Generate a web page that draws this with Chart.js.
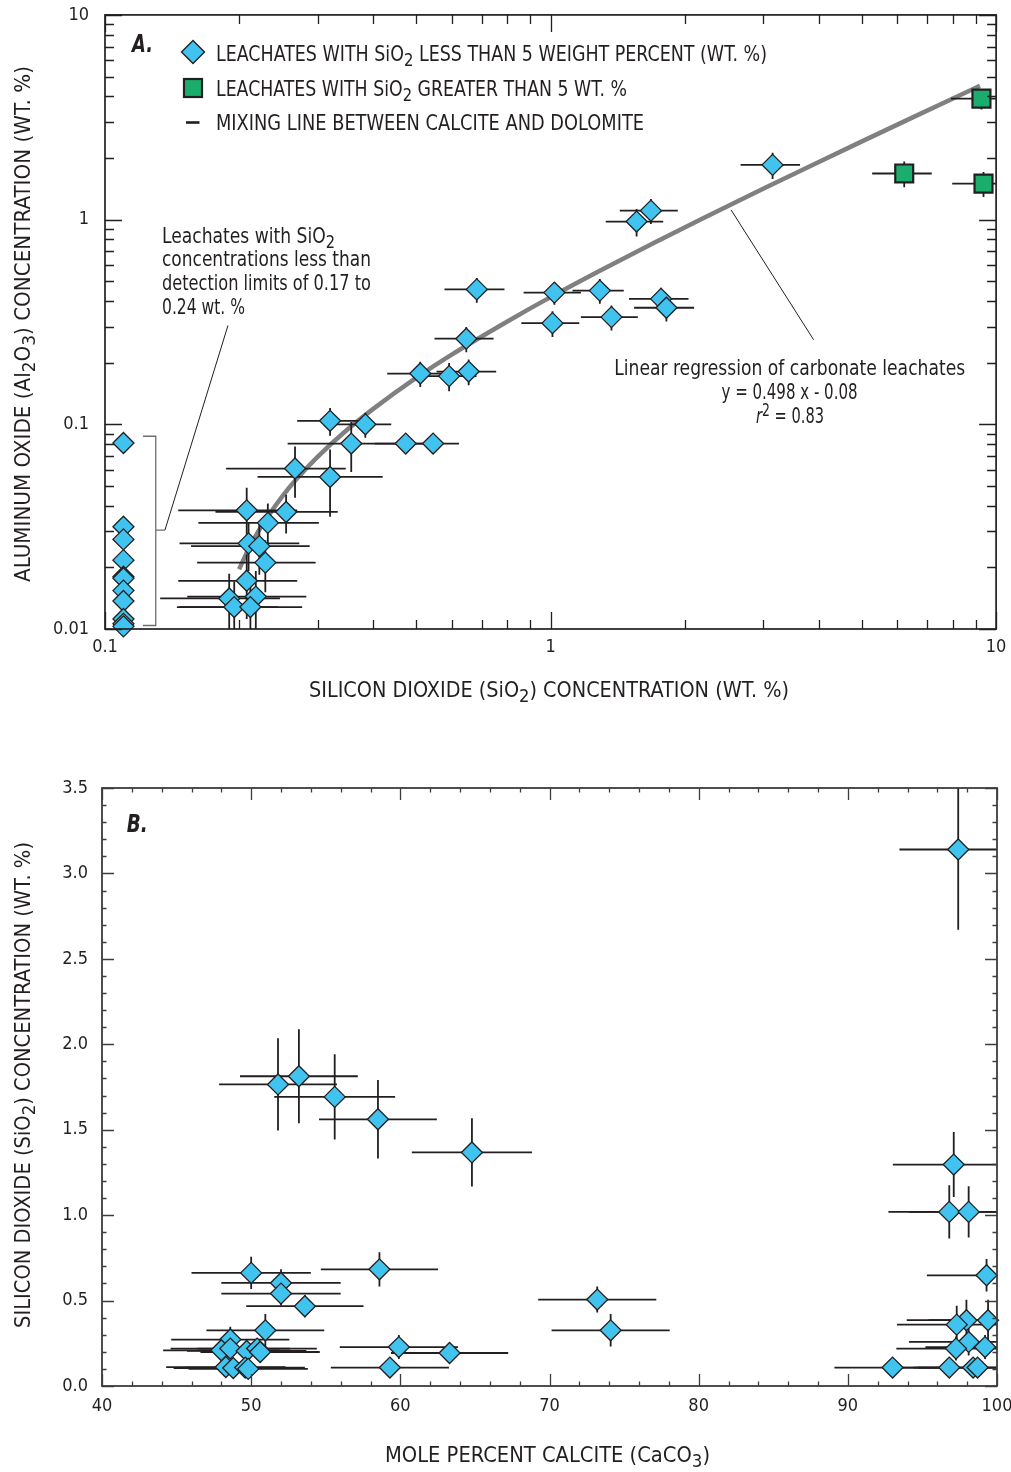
<!DOCTYPE html>
<html lang="en">
<head>
  <meta charset="UTF-8" />
  <title>Al2O3, SiO2 and calcite in carbonate leachates</title>
  <script src="https://cdn.jsdelivr.net/npm/chart.js"></script>
  <style>
    html, body { margin: 0; padding: 0; background: #fff; }
    .panel { position: absolute; left: 0; width: 1011px; }
    #panelA { top: 0; height: 720px; }
    #panelB { top: 740px; height: 732px; }
  </style>
</head>
<body>

<div class="panel" id="panelA"><canvas id="chartA" width="1011" height="720"></canvas></div>
<div class="panel" id="panelB"><canvas id="chartB" width="1011" height="732"></canvas></div>

<script>
// ---- Panel A: Al2O3 vs SiO2 (log-log) ----
// leachates with SiO2 < 5 wt. %
const aSiO2 = [3.15, 1.68, 1.56, 0.683, 1.02, 1.29, 1.77, 1.82, 1.01, 1.37, 0.647, 0.51, 0.592, 0.655, 0.32, 0.384,
  0.357, 0.473, 0.545, 0.267, 0.32, 0.208, 0.255, 0.232, 0.21, 0.222, 0.229, 0.208, 0.19, 0.218, 0.195, 0.212];
const aAl2O3 = [1.85, 1.106, 0.978, 0.456, 0.44, 0.45, 0.41, 0.371, 0.312, 0.334, 0.262, 0.177, 0.172, 0.181, 0.104, 0.1,
  0.0805, 0.0805, 0.0805, 0.0608, 0.0553, 0.038, 0.0373, 0.033, 0.0262, 0.0254, 0.0211, 0.0172, 0.0141, 0.0144, 0.0128, 0.0128];
const aSiO2Err = [0.48, 0.25, 0.23, 0.105, 0.15, 0.17, 0.27, 0.28, 0.15, 0.2, 0.098, 0.08, 0.09, 0.1, 0.05, 0.055,
  0.1, 0.07, 0.078, 0.08, 0.1, 0.062, 0.078, 0.07, 0.063, 0.066, 0.068, 0.062, 0.057, 0.065, 0.05, 0.065];
const aAl2O3Err = [0.27, 0.155, 0.15, 0.063, 0.056, 0.062, 0.054, 0.053, 0.045, 0.047, 0.037, 0.025, 0.027, 0.026, 0.016, 0.014,
  0.022, 0.008, 0.008, 0.017, 0.02, 0.011, 0.008, 0.008, 0.007, 0.007, 0.006, 0.006, 0.0045, 0.0048, 0.0042, 0.0045];

// leachates with SiO2 below detection limit (plotted at 0.11)
const ndSiO2 = [0.11, 0.11, 0.11, 0.11, 0.11, 0.11, 0.11, 0.11, 0.11, 0.11, 0.11];
const ndAl2O3 = [0.081, 0.0316, 0.0274, 0.0217, 0.018, 0.0177, 0.0154, 0.0137, 0.0112, 0.0106, 0.0103];

// leachates with SiO2 > 5 wt. %
const gSiO2 = [9.27, 6.22, 9.37];
const gAl2O3 = [3.9, 1.68, 1.5];
const gSiO2Err = [1.35, 0.95, 1.4];
const gAl2O3Err = [0.45, 0.24, 0.21];

// linear regression line
const regSiO2 = [0.2, 0.21, 0.22, 0.23, 0.25, 0.27, 0.3, 0.35, 0.4, 0.5, 0.6, 0.8, 1, 1.3, 1.7, 2.2, 3, 4, 5, 6.5, 8, 9.2];
const regAl2O3 = [0.0196, 0.0246, 0.0296, 0.0345, 0.0445, 0.0545, 0.0694, 0.0943, 0.119, 0.169, 0.219, 0.318, 0.418,
  0.567, 0.767, 1.016, 1.414, 1.912, 2.41, 3.157, 3.904, 4.502];

const aXTicks = [0.1, 1, 10];
const aXTickLabels = ['0.1', '1', '10'];
const aYTicks = [0.01, 0.1, 1, 10];
const aYTickLabels = ['0.01', '0.1', '1', '10'];

// ---- Panel B: SiO2 vs mole percent calcite ----
const bCalcite = [51.8, 53.2, 55.6, 58.5, 64.8, 50.0, 58.6, 52.0, 52.0, 53.6, 50.95, 59.9, 63.3, 59.3,
  48.6, 48.0, 48.6, 49.7, 50.4, 50.6, 48.3, 48.8, 49.6, 49.8,
  73.2, 74.1, 97.1, 96.8, 98.1, 99.3, 99.4, 97.95, 97.3, 98.1, 99.2, 97.25, 93.0, 96.8, 98.4, 98.7, 97.4];
const bSiO2 = [1.765, 1.813, 1.692, 1.561, 1.367, 0.662, 0.683, 0.603, 0.541, 0.467, 0.326, 0.228, 0.193, 0.108,
  0.272, 0.209, 0.219, 0.205, 0.219, 0.199, 0.111, 0.105, 0.108, 0.1,
  0.506, 0.326, 1.296, 1.019, 1.019, 0.648, 0.385, 0.385, 0.359, 0.258, 0.228, 0.219, 0.108, 0.108, 0.108, 0.108, 3.14];
const bCalciteErr = [3.95, 3.95, 4.05, 3.95, 4.03, 4.0, 3.93, 4.0, 4.0, 3.93, 3.95, 3.96, 3.93, 3.96,
  3.96, 3.9, 4.0, 4.0, 4.0, 4.0, 4.0, 4.0, 4.0, 4.0,
  3.96, 3.96, 4.08, 4.08, 4.0, 4.0, 4.0, 4.0, 4.0, 4.0, 4.0, 4.0, 3.9, 4.0, 4.0, 4.0, 3.94];
const bSiO2Err = [0.27, 0.275, 0.25, 0.23, 0.2, 0.095, 0.1, 0.08, 0.07, 0.065, 0.095, 0.07, 0.05, 0.05,
  0.075, 0.06, 0.06, 0.06, 0.06, 0.06, 0.05, 0.05, 0.05, 0.05,
  0.076, 0.095, 0.19, 0.156, 0.15, 0.095, 0.12, 0.12, 0.11, 0.08, 0.07, 0.07, 0.05, 0.05, 0.05, 0.05, 0.47];

const bXTicks = [40, 50, 60, 70, 80, 90, 100];
const bXTickLabels = ['40', '50', '60', '70', '80', '90', '100'];
const bYTicks = [0, 0.5, 1, 1.5, 2, 2.5, 3, 3.5];
const bYTickLabels = ['0.0', '0.5', '1.0', '1.5', '2.0', '2.5', '3.0', '3.5'];

const INK = '#231f20';
const CYAN = '#40c4ef';
const GREEN = '#1bad6b';
const FONT = '"Liberation Sans Narrow", "DejaVu Sans Condensed", "Roboto", sans-serif';

const pts = (xs, ys) => xs.map((x, i) => ({ x: x, y: ys[i] }));

function logMinor(decades) {
  const out = [];
  decades.forEach(d => { for (let k = 2; k <= 9; k++) out.push(d * k); });
  return out;
}
function steps(from, to, step) {
  const out = [];
  for (let v = from; v <= to + 1e-9; v += step) out.push(+v.toFixed(6));
  return out;
}

// text with sub/superscripts, squeezed to the width it has in the figure
function drawRich(ctx, parts, x, y, size, width, align, weight) {
  ctx.save();
  const fontFor = p => (p[1] === 'i' ? 'italic ' : '') + (weight || 'normal') + ' ' +
    ((p[1] === 'sub' || p[1] === 'sup') ? size * 0.85 : size) + 'px ' + FONT;
  let natural = 0;
  parts.forEach(p => { ctx.font = fontFor(p); natural += ctx.measureText(p[0]).width; });
  const sx = width ? width / natural : 1;
  const x0 = align === 'center' ? x - natural * sx / 2 : (align === 'right' ? x - natural * sx : x);
  ctx.translate(x0, y);
  ctx.scale(sx, 1);
  ctx.textAlign = 'left';
  ctx.textBaseline = 'alphabetic';
  ctx.fillStyle = INK;
  let cx = 0;
  parts.forEach(p => {
    ctx.font = fontFor(p);
    const dy = p[1] === 'sub' ? size * 0.24 : (p[1] === 'sup' ? -size * 0.36 : 0);
    ctx.fillText(p[0], cx, dy);
    cx += ctx.measureText(p[0]).width;
  });
  ctx.restore();
}
function drawRotated(ctx, parts, cx, cy, size, width) {
  ctx.save();
  ctx.translate(cx, cy);
  ctx.rotate(-Math.PI / 2);
  drawRich(ctx, parts, 0, 0, size, width, 'center');
  ctx.restore();
}

// error bars drawn just before the markers of a dataset
const errorBars = {
  id: 'errorBars',
  beforeDatasetDraw(chart, args) {
    const ds = chart.data.datasets[args.index];
    if (!ds.xErr) return;
    const { ctx, chartArea: a, scales: { x, y } } = chart;
    const px = v => x.getPixelForValue(Math.max(v, x.min));
    const py = v => y.getPixelForValue(Math.max(v, y.min));
    ctx.save();
    ctx.beginPath();
    ctx.rect(a.left, a.top, a.right - a.left, a.bottom - a.top);
    ctx.clip();
    ctx.strokeStyle = INK;
    ctx.lineWidth = 1.8;
    ds.data.forEach((p, i) => {
      const cx = px(p.x), cy = py(p.y);
      ctx.beginPath();
      ctx.moveTo(px(p.x - ds.xErr[i]), cy);
      ctx.lineTo(px(p.x + ds.xErr[i]), cy);
      ctx.moveTo(cx, py(p.y - ds.yErr[i]));
      ctx.lineTo(cx, py(p.y + ds.yErr[i]));
      ctx.stroke();
    });
    ctx.restore();
  }
};

// inward ticks on all four sides plus the box
function frameTicks(cfg) {
  return {
    id: 'frameTicks',
    afterDraw(chart) {
      const { ctx, chartArea: a, scales: { x, y } } = chart;
      ctx.save();
      ctx.strokeStyle = cfg.color;
      ctx.lineWidth = cfg.tickWidth;
      ctx.beginPath();
      const xMarks = (vals, len) => vals.forEach(v => {
        const p = Math.round(x.getPixelForValue(v)) + 0.5;
        ctx.moveTo(p, a.bottom); ctx.lineTo(p, a.bottom - len);
        ctx.moveTo(p, a.top); ctx.lineTo(p, a.top + len);
      });
      const yMarks = (vals, len) => vals.forEach(v => {
        const p = Math.round(y.getPixelForValue(v)) + 0.5;
        ctx.moveTo(a.left, p); ctx.lineTo(a.left + len, p);
        ctx.moveTo(a.right, p); ctx.lineTo(a.right - len, p);
      });
      xMarks(cfg.xMajor, cfg.major); xMarks(cfg.xMinor, cfg.minor);
      yMarks(cfg.yMajor, cfg.major); yMarks(cfg.yMinor, cfg.minor);
      ctx.stroke();
      ctx.lineWidth = cfg.frameWidth;
      ctx.strokeRect(a.left, a.top, a.right - a.left, a.bottom - a.top);
      ctx.restore();
    }
  };
}

const tickFont = { family: FONT, size: 18 };

// fixed axis boxes; the label overhang must not shrink the plot area
function axis(type, min, max, ticks, labels, size, padding) {
  return {
    type: type, min: min, max: max,
    grid: { display: false, drawTicks: false },
    border: { display: false },
    afterBuildTicks: s => { s.ticks = ticks.map(v => ({ value: v })); },
    afterFit: s => {
      if (s.isHorizontal()) s.height = size; else s.width = size;
      s.paddingLeft = s.paddingRight = s.paddingTop = s.paddingBottom = 0;
    },
    ticks: {
      callback: (v, i) => labels[i],
      font: tickFont, color: INK, padding: padding,
      maxRotation: 0, autoSkip: false
    }
  };
}

// ---------- Chart A ----------
const annotA = {
  id: 'annotA',
  afterDraw(chart) {
    const { ctx, scales: { x, y } } = chart;
    const P = (vx, vy) => [x.getPixelForValue(vx), y.getPixelForValue(vy)];

    // legend
    ctx.save();
    ctx.fillStyle = CYAN; ctx.strokeStyle = INK; ctx.lineWidth = 1.4;
    ctx.beginPath();
    ctx.moveTo(193 - 11.5, 52); ctx.lineTo(193, 52 - 11.5); ctx.lineTo(193 + 11.5, 52); ctx.lineTo(193, 52 + 11.5);
    ctx.closePath(); ctx.fill(); ctx.stroke();
    ctx.fillStyle = GREEN; ctx.lineWidth = 2.2;
    ctx.fillRect(184, 79, 18, 18); ctx.strokeRect(184, 79, 18, 18);
    ctx.lineWidth = 2.6; ctx.beginPath(); ctx.moveTo(186, 122.5); ctx.lineTo(199.5, 122.5); ctx.stroke();

    // bracket around the below-detection points and leader lines
    ctx.strokeStyle = '#6d6e71'; ctx.lineWidth = 1.3;
    const b1 = P(0.13, 0.0874), b2 = P(0.13, 0.0104), bl = P(0.1217, 0.0874), bm = P(0.1363, 0.0304);
    ctx.beginPath();
    ctx.moveTo(bl[0], b1[1]); ctx.lineTo(b1[0], b1[1]); ctx.lineTo(b2[0], b2[1]); ctx.lineTo(bl[0], b2[1]);
    ctx.moveTo(b1[0], bm[1]); ctx.lineTo(bm[0], bm[1]);
    ctx.stroke();
    ctx.strokeStyle = INK; ctx.lineWidth = 1;
    const l1 = P(0.1888, 0.304);
    ctx.beginPath(); ctx.moveTo(bm[0], bm[1]); ctx.lineTo(l1[0], l1[1]); ctx.stroke();
    const r1 = P(2.542, 1.115), r2 = P(3.894, 0.2589);
    ctx.beginPath(); ctx.moveTo(r1[0], r1[1]); ctx.lineTo(r2[0], r2[1]); ctx.stroke();
    ctx.restore();

    drawRich(ctx, [['A.', 'i']], 132, 51.7, 25, 21, 'left', 'bold');
    drawRich(ctx, [['LEACHATES WITH SiO', ''], ['2', 'sub'], [' LESS THAN 5 WEIGHT PERCENT (WT. %)', '']], 216, 61, 21, 551);
    drawRich(ctx, [['LEACHATES WITH SiO', ''], ['2', 'sub'], [' GREATER THAN 5 WT. %', '']], 216, 95.7, 21, 411);
    drawRich(ctx, [['MIXING LINE BETWEEN CALCITE AND DOLOMITE', '']], 216, 130, 21, 428);

    drawRich(ctx, [['Leachates with SiO', ''], ['2', 'sub']], 162, 242.7, 20.5, 173);
    drawRich(ctx, [['concentrations less than', '']], 162, 266.2, 20.5, 209);
    drawRich(ctx, [['detection limits of 0.17 to', '']], 162, 289.7, 20.5, 209);
    drawRich(ctx, [['0.24 wt. %', '']], 162, 314, 20.5, 83);

    drawRich(ctx, [['Linear regression of carbonate leachates', '']], 789.7, 375, 20.5, 351, 'center');
    drawRich(ctx, [['y = 0.498 x - 0.08', '']], 789.5, 399, 20.5, 136, 'center');
    drawRich(ctx, [['r', 'i'], ['2', 'sup'], [' = 0.83', '']], 790, 423.3, 20.5, 68, 'center');

    drawRich(ctx, [['SILICON DIOXIDE (SiO', ''], ['2', 'sub'], [') CONCENTRATION (WT. %)', '']], 549, 697.3, 21.5, 480, 'center');
    drawRotated(ctx, [['ALUMINUM OXIDE (Al', ''], ['2', 'sub'], ['O', ''], ['3', 'sub'], [') CONCENTRATION (WT. %)', '']], 30, 324, 21.5, 516);
  }
};

new Chart(document.getElementById('chartA'), {
  type: 'scatter',
  data: {
    datasets: [
      {
        label: 'Leachates with SiO2 less than 5 weight percent',
        data: pts(aSiO2, aAl2O3), xErr: aSiO2Err, yErr: aAl2O3Err,
        pointStyle: 'rectRot', pointRadius: 10.5, backgroundColor: CYAN, borderColor: INK, borderWidth: 1.3, clip: false
      },
      {
        label: 'SiO2 below detection limit',
        data: pts(ndSiO2, ndAl2O3),
        pointStyle: 'rectRot', pointRadius: 10.5, backgroundColor: CYAN, borderColor: INK, borderWidth: 1.3, clip: false
      },
      {
        label: 'Leachates with SiO2 greater than 5 wt. %',
        data: pts(gSiO2, gAl2O3), xErr: gSiO2Err, yErr: gAl2O3Err,
        pointStyle: 'rect', pointRadius: 12.7, backgroundColor: GREEN, borderColor: INK, borderWidth: 2.2, clip: false
      },
      {
        type: 'line',
        label: 'Linear regression',
        data: pts(regSiO2, regAl2O3),
        borderColor: '#808080', borderWidth: 4.5, pointRadius: 0, fill: false,
        cubicInterpolationMode: 'monotone'
      }
    ]
  },
  options: {
    responsive: false,
    animation: false,
    events: [],
    layout: { padding: { top: 14, right: 14, bottom: 0, left: 0 } },
    plugins: { legend: { display: false }, tooltip: { enabled: false } },
    scales: {
      x: axis('logarithmic', 0.1, 10, aXTicks, aXTickLabels, 91, 8),
      y: axis('logarithmic', 0.01, 10, aYTicks, aYTickLabels, 105, 16)
    }
  },
  plugins: [errorBars, annotA, frameTicks({
    color: INK, tickWidth: 1.3, frameWidth: 1.7, major: 17, minor: 9,
    xMajor: aXTicks, xMinor: logMinor([0.1, 1]),
    yMajor: aYTicks, yMinor: logMinor([0.01, 0.1, 1])
  })]
});

// ---------- Chart B ----------
const annotB = {
  id: 'annotB',
  afterDraw(chart) {
    const ctx = chart.ctx;
    drawRich(ctx, [['B.', 'i']], 126.7, 91.7, 25, 21, 'left', 'bold');
    drawRich(ctx, [['MOLE PERCENT CALCITE (CaCO', ''], ['3', 'sub'], [')', '']], 547.5, 721.7, 21.5, 325, 'center');
    drawRotated(ctx, [['SILICON DIOXIDE (SiO', ''], ['2', 'sub'], [') CONCENTRATION (WT. %)', '']], 30, 345, 21.5, 486);
  }
};

new Chart(document.getElementById('chartB'), {
  type: 'scatter',
  data: {
    datasets: [
      {
        label: 'SiO2 versus mole percent calcite',
        data: pts(bCalcite, bSiO2), xErr: bCalciteErr, yErr: bSiO2Err,
        pointStyle: 'rectRot', pointRadius: 10.5, backgroundColor: CYAN, borderColor: INK, borderWidth: 1.3, clip: false
      }
    ]
  },
  options: {
    responsive: false,
    animation: false,
    events: [],
    layout: { padding: { top: 48, right: 14, bottom: 0, left: 0 } },
    plugins: { legend: { display: false }, tooltip: { enabled: false } },
    scales: {
      x: axis('linear', 40, 100, bXTicks, bXTickLabels, 86, 10),
      y: axis('linear', 0, 3.5, bYTicks, bYTickLabels, 102, 14)
    }
  },
  plugins: [errorBars, annotB, frameTicks({
    color: '#3c3c3c', tickWidth: 1.3, frameWidth: 1.8, major: 12, minor: 4.5,
    xMajor: bXTicks, xMinor: steps(42, 98, 2).filter(v => v % 10 !== 0),
    yMajor: bYTicks, yMinor: steps(0.1, 3.4, 0.1).filter(v => Math.abs(v * 2 - Math.round(v * 2)) > 1e-6)
  })]
});
</script>

</body>
</html>
